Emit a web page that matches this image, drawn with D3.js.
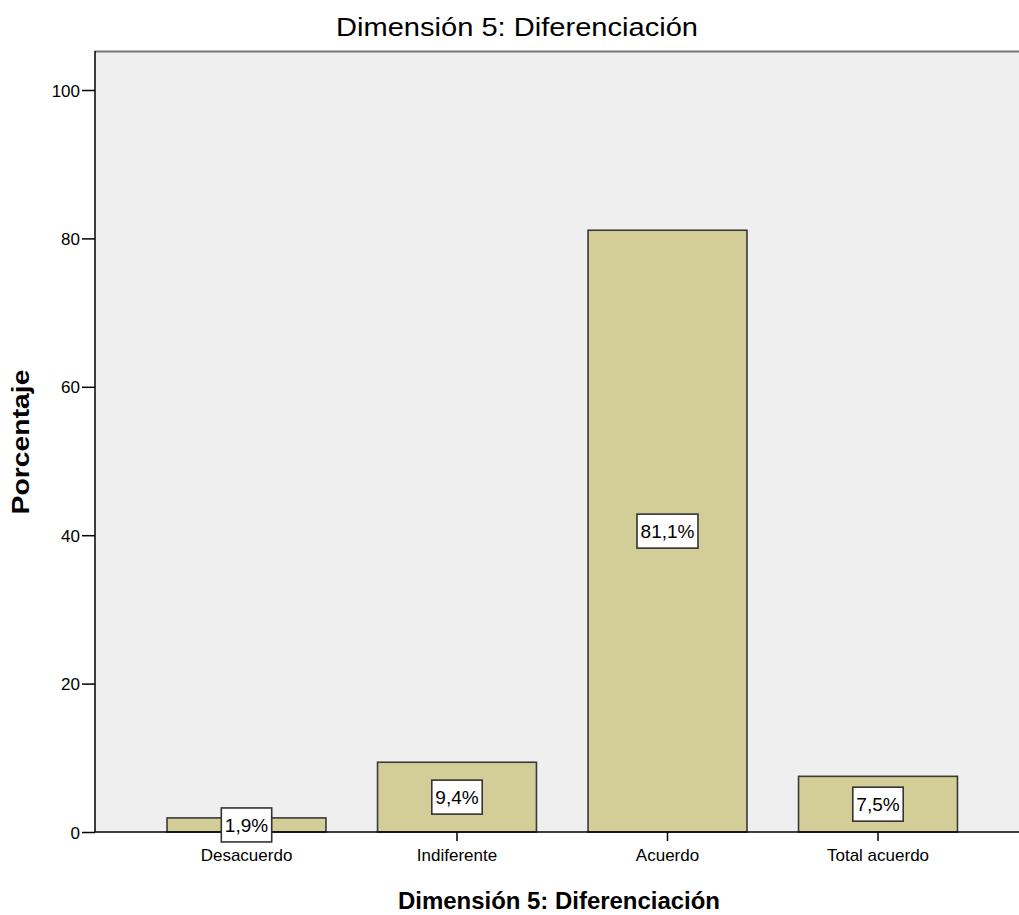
<!DOCTYPE html>
<html><head><meta charset="utf-8">
<script src="https://cdn.jsdelivr.net/npm/d3@7"></script>
<style>body{margin:0;background:#fff}svg{display:block}text{font-family:"Liberation Sans",Arial,sans-serif;fill:#000}</style>
</head><body><svg id="c" width="1019" height="915"></svg>
<script>
const categories = ["Desacuerdo","Indiferente","Acuerdo","Total acuerdo"];
const values = [1.9, 9.4, 81.1, 7.5];
const labels = ["1,9%","9,4%","81,1%","7,5%"];
const yTicks = [0,20,40,60,80,100];
const title = "Dimensión 5: Diferenciación";
const xTitle = "Dimensión 5: Diferenciación";
const yTitle = "Porcentaje";

const svg = d3.select("#c");
const plotL = 95, plotT = 51, plotR = 1019, y0 = 832;
const y = d3.scaleLinear().domain([0,100]).range([y0, 90]);
const x = d3.scaleBand().domain(categories).range([141.25, 983.25]).paddingInner(0.245).paddingOuter(0.1225);

svg.append("rect").attr("x",plotL).attr("y",plotT).attr("width",plotR-plotL).attr("height",y0-plotT).attr("fill","#efefef");
svg.append("line").attr("x1",plotL).attr("x2",plotR).attr("y1",plotT+0.5).attr("y2",plotT+0.5).attr("stroke","#777").attr("stroke-width",2);

svg.append("text").attr("x",517).attr("y",36).attr("text-anchor","middle").attr("font-size",25)
  .attr("textLength",362).attr("lengthAdjust","spacingAndGlyphs").text(title);

// bars
svg.selectAll(".bar").data(values).enter().append("rect")
  .attr("x",(d,i)=>x(categories[i])).attr("width",x.bandwidth())
  .attr("y",d=>y(d)).attr("height",d=>y0-y(d))
  .attr("fill","#d3ce97").attr("stroke","#3a3a3a").attr("stroke-width",1.6);

// y axis
const ya = svg.append("g").attr("transform",`translate(${plotL},0)`)
  .call(d3.axisLeft(y).tickValues(yTicks).tickSize(13).tickPadding(2));
ya.select(".domain").attr("stroke","#000").attr("stroke-width",1.5).attr("d",`M0,${plotT}V${y0}`);
ya.selectAll(".tick line").attr("stroke","#000").attr("stroke-width",1.5);
ya.selectAll(".tick text").attr("font-size",17).attr("dy","0.36em").attr("font-family","Liberation Sans, Arial, sans-serif").attr("fill","#000");

// x axis
const xa = svg.append("g").attr("transform",`translate(0,${y0})`)
  .call(d3.axisBottom(x).tickSize(9).tickPadding(7));
xa.select(".domain").attr("stroke","#000").attr("stroke-width",1.5).attr("d",`M${plotL},0H${plotR}`);
xa.selectAll(".tick line").attr("stroke","#000").attr("stroke-width",1.5);
xa.selectAll(".tick text").attr("font-size",17).attr("dy","0.75em").attr("font-family","Liberation Sans, Arial, sans-serif").attr("fill","#000");

// value labels
const lg = svg.selectAll(".lab").data(values).enter().append("g");
lg.each(function(d,i){
  const g = d3.select(this);
  const cx = x(categories[i]) + x.bandwidth()/2;
  const cy = y(d/2);
  const r = g.append("rect");
  const t = g.append("text").attr("x",cx).attr("y",cy+7).attr("text-anchor","middle").attr("font-size",19).text(labels[i]);
  const bb = t.node().getBBox();
  const w = bb.width + 7, h = 34;
  r.attr("x",cx-w/2).attr("y",cy-h/2).attr("width",w).attr("height",h).attr("fill","#fff").attr("stroke","#333").attr("stroke-width",1.6);
});

svg.append("text").attr("x",559).attr("y",909).attr("text-anchor","middle").attr("font-size",24).attr("font-weight","bold")
  .attr("textLength",322).attr("lengthAdjust","spacingAndGlyphs").text(xTitle);
svg.append("text").attr("transform","translate(29,442) rotate(-90)").attr("text-anchor","middle").attr("font-size",23).attr("font-weight","bold")
  .attr("textLength",145).attr("lengthAdjust","spacingAndGlyphs").text(yTitle);
</script></body></html>
